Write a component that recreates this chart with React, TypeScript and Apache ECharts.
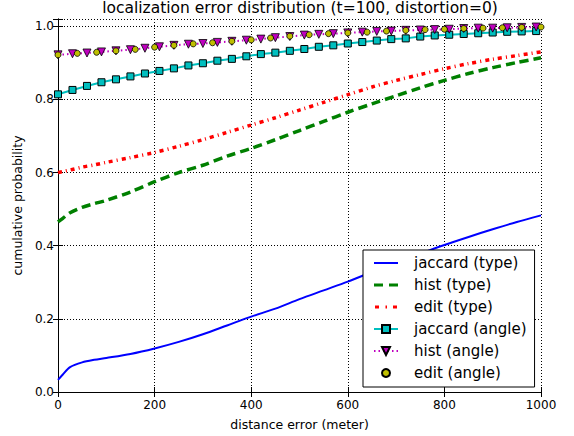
import React, { useEffect, useRef } from "react";
import * as echarts from "echarts";

const title = "localization error distribution (t=100, distortion=0)";
const xName = "distance error (meter)";
const yName = "cumulative probability";

const typeX = [0, 10, 25, 50, 75, 100, 150, 200, 250, 300, 350, 400, 450, 500, 550, 600, 650, 700, 750, 800, 850, 900, 950, 1000];
const jaccardType = [0.033, 0.048, 0.068, 0.081, 0.088, 0.093, 0.104, 0.119, 0.137, 0.158, 0.182, 0.206, 0.228, 0.254, 0.278, 0.302, 0.328, 0.353, 0.378, 0.402, 0.424, 0.445, 0.465, 0.483];
const histType = [0.465, 0.475, 0.49, 0.505, 0.515, 0.524, 0.547, 0.575, 0.6, 0.62, 0.645, 0.666, 0.69, 0.715, 0.74, 0.765, 0.788, 0.81, 0.832, 0.852, 0.871, 0.887, 0.901, 0.914];
const editType = [0.6, 0.603, 0.607, 0.615, 0.621, 0.628, 0.641, 0.655, 0.672, 0.69, 0.71, 0.73, 0.75, 0.771, 0.792, 0.813, 0.834, 0.852, 0.868, 0.884, 0.898, 0.91, 0.92, 0.93];

const angleX30 = [0, 30, 60, 90, 120, 150, 180, 210, 240, 270, 300, 330, 360, 390, 420, 450, 480, 510, 540, 570, 600, 630, 660, 690, 720, 750, 780, 810, 840, 870, 900, 930, 960, 990];
const jaccardAngle = [0.814, 0.826, 0.837, 0.847, 0.855, 0.863, 0.871, 0.878, 0.885, 0.893, 0.899, 0.906, 0.911, 0.918, 0.924, 0.928, 0.933, 0.938, 0.944, 0.948, 0.953, 0.957, 0.961, 0.965, 0.967, 0.972, 0.975, 0.977, 0.979, 0.981, 0.983, 0.985, 0.986, 0.987];
const histAngle = [0.922, 0.925, 0.927, 0.93, 0.933, 0.936, 0.94, 0.944, 0.948, 0.951, 0.953, 0.956, 0.959, 0.962, 0.965, 0.969, 0.972, 0.976, 0.978, 0.98, 0.982, 0.984, 0.986, 0.987, 0.989, 0.99, 0.991, 0.992, 0.994, 0.995, 0.995, 0.996, 0.997, 0.998];

const angleX40 = [0, 40, 80, 120, 160, 200, 240, 280, 320, 360, 400, 440, 480, 520, 560, 600, 640, 680, 720, 760, 800, 840, 880, 920, 960, 1000];
const editAngle = [0.922, 0.926, 0.929, 0.933, 0.937, 0.943, 0.948, 0.952, 0.955, 0.959, 0.963, 0.968, 0.973, 0.977, 0.98, 0.982, 0.984, 0.987, 0.989, 0.991, 0.992, 0.994, 0.995, 0.996, 0.997, 0.998];

const xTicks = [0, 200, 400, 600, 800, 1000];

const FONT = "DejaVu Sans";

const pairs = (xs: number[], ys: number[]) => xs.map((x, i) => [x, ys[i]]);

// legend icon shapes (24 x 10 box)
const ICON_SOLID = "path://M0,0M24,10M0,4h24v2h-24z";
const ICON_DASH = "path://M0,0M24,10M0,3.5h9v3h-9zM15,3.5h9v3h-9z";
const ICON_DASHDOT = "path://M0,0M24,10M1,3.5h4v3h-4zM11.5,3.5h1.5v3h-1.5zM19,3.5h4v3h-4z";

export default function App() {
  const ref = useRef<HTMLDivElement>(null);
  useEffect(() => {
    if (!ref.current) return;
    const chart = echarts.init(ref.current, null, { renderer: "svg" });
    const axisLine = { show: true, lineStyle: { color: "#000", width: 1 } };
    const tick = { show: true, inside: true, length: 5, lineStyle: { color: "#000", width: 1 } };
    const split = { show: true, lineStyle: { color: "#000", type: [1, 2], width: 1 } };
    chart.setOption({
      animation: false,
      backgroundColor: "#fff",
      title: {
        text: title,
        left: 300,
        textAlign: "center",
        top: 0,
        padding: 0,
        textStyle: { fontFamily: FONT, fontSize: 15.5, fontWeight: "normal", color: "#000" },
      },
      grid: { left: 58, top: 19, width: 483, height: 375, show: false },
      legend: {
        orient: "vertical",
        left: 363,
        top: 250,
        padding: [5, 8, 6, 10],
        itemWidth: 24,
        itemHeight: 10,
        itemGap: 6,
        backgroundColor: "#fff",
        borderColor: "#000",
        borderWidth: 1,
        borderRadius: 0,
        textStyle: { fontFamily: FONT, fontSize: 15, color: "#000", lineHeight: 16, padding: [0, 0, 0, 11] },
        data: [
          { name: "jaccard (type)", icon: ICON_SOLID },
          { name: "hist (type)", icon: ICON_DASH },
          { name: "edit (type)", icon: ICON_DASHDOT },
          { name: "jaccard (angle)" },
          { name: "hist (angle)" },
          { name: "edit (angle)" },
        ],
      },
      xAxis: [
        {
          type: "value",
          min: 0,
          max: 1000,
          interval: 200,
          position: "bottom",
          name: xName,
          nameLocation: "middle",
          nameGap: 26,
          nameTextStyle: { fontFamily: FONT, fontSize: 12.5, color: "#000" },
          axisLine,
          axisTick: tick,
          splitLine: split,
          axisLabel: {
            fontFamily: FONT,
            fontSize: 12,
            color: "#000",
            margin: 7,
            formatter: (v: number) => (xTicks.includes(v) ? String(v) : ""),
          },
        },
        {
          type: "value",
          min: 0,
          max: 1000,
          interval: 200,
          position: "top",
          axisLine,
          axisTick: tick,
          splitLine: { show: false },
          axisLabel: { show: false },
        },
      ],
      yAxis: [
        {
          type: "value",
          min: 0,
          max: 1.02,
          interval: 0.2,
          position: "left",
          name: yName,
          nameLocation: "middle",
          nameGap: 29,
          nameTextStyle: { fontFamily: FONT, fontSize: 12.5, color: "#000" },
          axisLine,
          axisTick: tick,
          splitLine: split,
          axisLabel: {
            fontFamily: FONT,
            fontSize: 12,
            color: "#000",
            margin: 4,
            formatter: (v: number) => (v > 1.001 ? "" : v.toFixed(1)),
          },
        },
        {
          type: "value",
          min: 0,
          max: 1.02,
          interval: 0.2,
          position: "right",
          axisLine,
          axisTick: tick,
          splitLine: { show: false },
          axisLabel: { show: false },
        },
      ],
      series: [
        {
          name: "jaccard (type)",
          type: "line",
          data: pairs(typeX, jaccardType),
          smooth: 0.3,
          symbol: "none",
          lineStyle: { color: "#0000ff", width: 2 },
          itemStyle: { color: "#0000ff" },
        },
        {
          name: "hist (type)",
          type: "line",
          data: pairs(typeX, histType),
          smooth: 0.3,
          symbol: "none",
          lineStyle: { color: "#008000", width: 3.5, type: [9, 5] },
          itemStyle: { color: "#008000" },
        },
        {
          name: "edit (type)",
          type: "line",
          data: pairs(typeX, editType),
          smooth: 0.3,
          symbol: "none",
          lineStyle: { color: "#ff0000", width: 3.5, type: [4, 4, 1, 4] },
          itemStyle: { color: "#ff0000" },
        },
        {
          name: "jaccard (angle)",
          type: "line",
          data: pairs(angleX30, jaccardAngle),
          symbol: "rect",
          symbolSize: 7,
          showAllSymbol: true,
          lineStyle: { color: "#00bfbf", width: 2 },
          itemStyle: { color: "#00bfbf", borderColor: "#000", borderWidth: 1 },
        },
        {
          name: "hist (angle)",
          type: "line",
          data: pairs(angleX30, histAngle),
          symbol: "triangle",
          symbolRotate: 180,
          symbolSize: 8,
          showAllSymbol: true,
          lineStyle: { color: "#bf00bf", width: 2, type: [1.5, 3] },
          itemStyle: { color: "#bf00bf", borderColor: "#000", borderWidth: 0.8 },
        },
        {
          name: "edit (angle)",
          type: "line",
          data: pairs(angleX40, editAngle),
          symbol: "circle",
          symbolSize: 6,
          showAllSymbol: true,
          lineStyle: { width: 0, opacity: 0 },
          itemStyle: { color: "#bfbf00", borderColor: "#000", borderWidth: 0.8 },
        },
      ],
    });
    return () => chart.dispose();
  }, []);
  return (
    <div
      ref={ref}
      style={{ position: "fixed", left: 0, top: 0, width: 574, height: 436, background: "#fff" }}
    />
  );
}
